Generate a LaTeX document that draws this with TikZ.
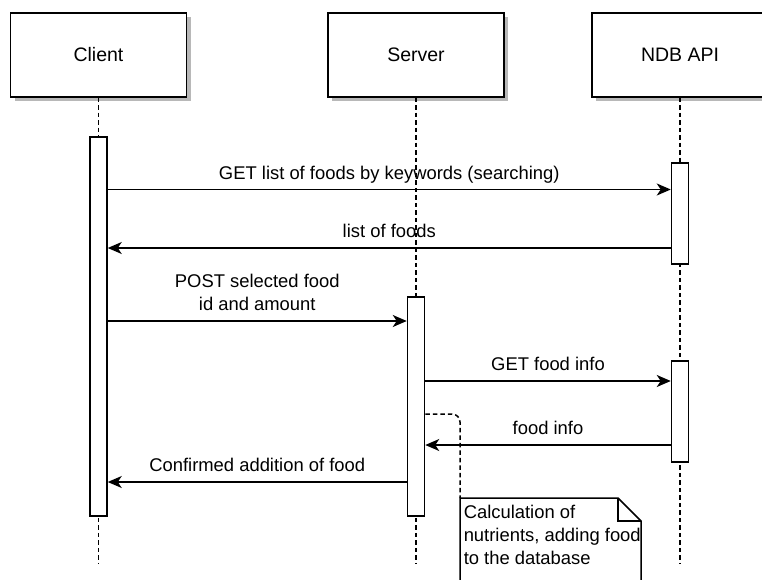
\documentclass[tikz,border=0pt]{standalone}
\usepackage{fontspec}
\setmainfont{Liberation Sans}
\usetikzlibrary{arrows.meta,shadows}

\begin{document}
\begin{tikzpicture}[x=1pt,y=-1pt,
  font=\fontsize{18.4}{23}\selectfont,
  line width=1.5pt,
  participant/.style={draw, fill=white, minimum width=176pt, minimum height=84pt,
    inner sep=0pt, font=\fontsize{19.5}{23}\selectfont,
    drop shadow={shadow xshift=4pt, shadow yshift=-4pt, fill=black!28, opacity=1}},
  activation/.style={draw, fill=white, minimum width=17pt, inner sep=0pt},
  lifeline/.style={dash pattern=on 4.5pt off 3pt},
  msg/.style={-{Stealth[length=14pt,width=12pt,inset=4pt]}},
  msglabel/.style={midway, anchor=south, inner sep=0pt, text depth=0pt,
    yshift=9.5pt, align=center},
  notelink/.style={dash pattern=on 4.5pt off 3pt, rounded corners=8pt}]

\useasboundingbox (0,0) rectangle (762,580);

% participants
\node[participant] (client) at (98.5,55) {Client};
\node[participant] (server) at (416,55) {Server};
\node[participant] (ndb)    at (680,55) {NDB API};

% lifeline ends
\coordinate (clientend) at (98.5,563);
\coordinate (serverend) at (416,563);
\coordinate (ndbend)    at (680,563);

\draw[lifeline] (client.south) -- (clientend);
\draw[lifeline] (server.south) -- (serverend);
\draw[lifeline] (ndb.south)    -- (ndbend);

% activation bars
\node[activation, minimum height=379pt] (cbar)  at (98.5,326.5) {};
\node[activation, minimum height=101pt] (nbar1) at (680,213.5) {};
\node[activation, minimum height=219pt] (sbar)  at (416,406.5) {};
\node[activation, minimum height=101pt] (nbar2) at (680,411.5) {};

% message heights
\coordinate (m1) at (0,189.5);
\coordinate (m2) at (0,248);
\coordinate (m3) at (0,321);
\coordinate (m4) at (0,381);
\coordinate (m5) at (0,445);
\coordinate (m6) at (0,482);
\coordinate (m7) at (0,414);

\draw[msg] (cbar.east |- m1) -- (nbar1.west |- m1)
  node[msglabel] {GET list of foods by keywords (searching)};
\draw[msg] (nbar1.west |- m2) -- (cbar.east |- m2)
  node[msglabel] {list of foods};
\draw[msg] (cbar.east |- m3) -- (sbar.west |- m3)
  node[msglabel] {POST selected food\\id and amount};
\draw[msg] (sbar.east |- m4) -- (nbar2.west |- m4)
  node[msglabel] {GET food info};
\draw[msg] (nbar2.west |- m5) -- (sbar.east |- m5)
  node[msglabel] {food info};
\draw[msg] (sbar.west |- m6) -- (cbar.east |- m6)
  node[msglabel] {Confirmed addition of food};

% note with folded corner
\coordinate (ntl) at (460,498);
\coordinate (nfold) at (618,498);
\coordinate (nfoldb) at (641,521);
\coordinate (nbl) at (460,590);
\coordinate (nbr) at (641,590);
\draw[fill=white] (nbl) -- (ntl) -- (nfold) -- (nfoldb) -- (nbr);
\draw (nfold) -- (nfold |- nfoldb) -- (nfoldb);
\node[anchor=north west, inner sep=0pt, align=left] (note) at (463,504.5)
  {Calculation of\\nutrients, adding food\\to the database};

\draw[notelink] (sbar.east |- m7) -| (ntl);

\end{tikzpicture}
\end{document}
